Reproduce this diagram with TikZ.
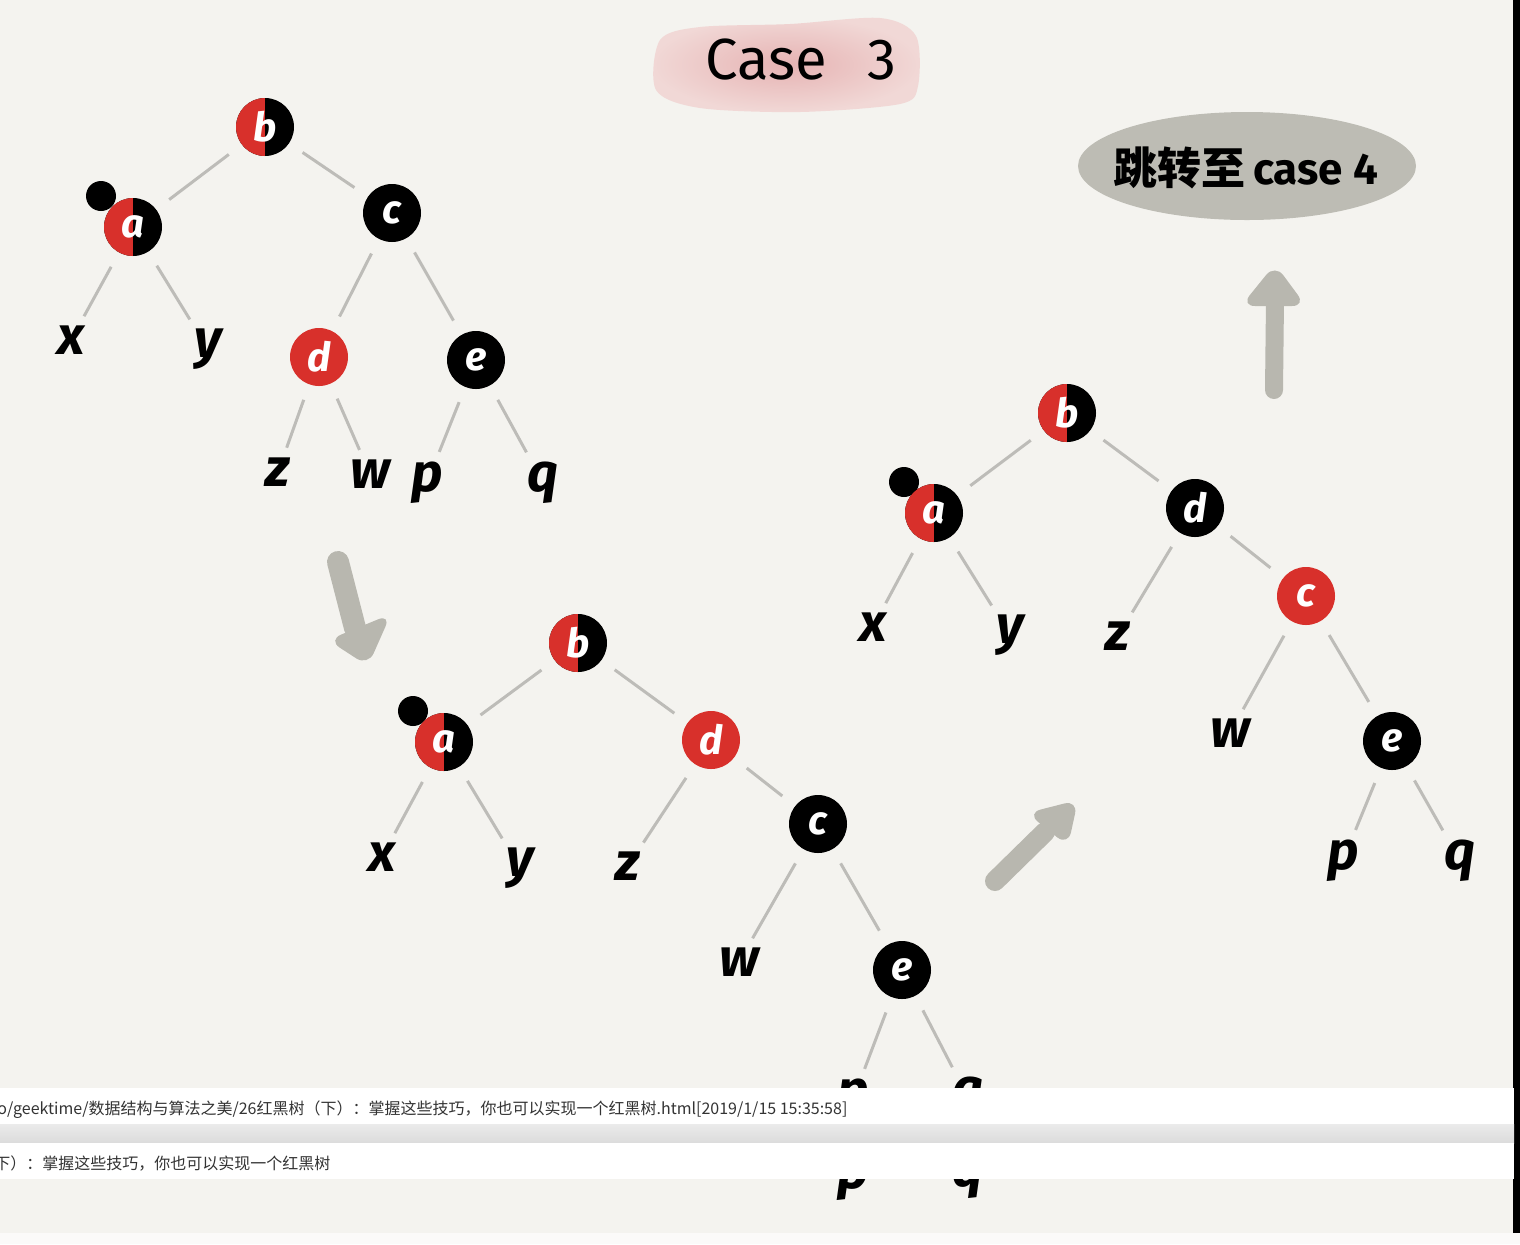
\documentclass[tikz,border=0pt]{standalone}
\usepackage{fontspec}
\newfontfamily\hand{Fira Sans}
\newfontfamily\cjk{Noto Sans CJK SC}
\definecolor{bg}{HTML}{F4F3EF}
\definecolor{rbred}{HTML}{D8302B}
\definecolor{edgec}{HTML}{BDBCB8}
\definecolor{arr}{HTML}{B8B7AF}
\definecolor{oval}{HTML}{BDBCB4}
\definecolor{pinkc}{HTML}{E6B3B3}
\definecolor{pinke}{HTML}{F1D8D6}
\definecolor{txt}{HTML}{333333}
\tikzset{
  blk/.style={circle, fill=black, minimum size=29pt, inner sep=0pt, text=white,
    font=\hand\bfseries\itshape\fontsize{20}{20}\selectfont},
  redn/.style={blk, fill=rbred},
  half/.style={blk, path picture={\fill[rbred] (path picture bounding box.south west) rectangle (path picture bounding box.north);}},
  dotn/.style={circle, fill=black, minimum size=15pt, inner sep=0pt},
  leaf/.style={anchor=mid, yshift=-6pt, inner sep=1pt, font=\hand\bfseries\itshape\fontsize{27}{27}\selectfont},
  link/.style={draw=edgec, line width=1.5pt, shorten <=8pt, shorten >=8pt},
  leaflink/.style={link, shorten >=4pt},
  shaft/.style={draw=arr, line cap=round},
  headfill/.style={fill=arr, rounded corners=7pt},
  bartext/.style={anchor=base west, inner sep=0pt, text=txt, font=\cjk\fontsize{8}{8}\selectfont}
}
\begin{document}
\begin{tikzpicture}[x=0.5pt,y=-0.5pt]
\useasboundingbox (0,0) rectangle (1520,1244);
\fill[bg] (0,0) rectangle (1520,1244);
\fill[black] (1513,0) rectangle (1520,1233);
% title blob
\shade[inner color=pinkc, outer color=pinke] plot[smooth cycle] coordinates {(660,40) (700,27) (790,24) (880,18) (916,36) (918,86) (900,104) (800,112) (700,108) (656,90)};
\node[font=\hand\fontsize{29}{29}\selectfont] (title) at (801,60) {Case\hspace{20pt}3};
% oval
\fill[oval] (1247,166) ellipse [x radius=169, y radius=54];
\node[font=\bfseries\fontsize{22}{22}\selectfont] (jump) at (1246,168) {{\cjk\bfseries 跳转至}\,{\hand case 4}};
% arrows
\draw[shaft, line width=11pt] (338,562) -- (355,628);
\fill[headfill] (328,640) -- (391,614) -- (368,666) -- cycle;
\draw[shaft, line width=10pt] (995,881) -- (1045,832);
\fill[headfill] (1027,813) -- (1078,800) -- (1068,846) -- cycle;
\draw[shaft, line width=9pt] (1274,390) -- (1275,300);
\fill[headfill] (1241,306) -- (1275,264) -- (1306,306) -- cycle;
% ---------- tree 1
\node[dotn] (K1) at (101,196) {};
\node[half] (B1) at (265,127) {b};
\node[half] (A1) at (133,227) {a};
\node[blk] (C1) at (392,213) {c};
\node[redn] (D1) at (319,357) {d};
\node[blk] (E1) at (476,360) {e};
\node[leaf] (X1) at (71,338) {x};
\node[leaf] (Y1) at (208,341) {y};
\node[leaf] (Z1) at (278,470) {z};
\node[leaf] (W1) at (370,472) {w};
\node[leaf] (P1) at (427,475) {p};
\node[leaf] (Q1) at (543,475) {q};
\draw[link] (B1) -- (A1);
\draw[link] (B1) -- (C1);
\draw[link] (C1) -- (D1);
\draw[link] (C1) -- (E1);
\draw[leaflink] (A1) -- (X1);
\draw[leaflink] (A1) -- (Y1);
\draw[leaflink] (D1) -- (Z1);
\draw[leaflink] (D1) -- (W1);
\draw[leaflink] (E1) -- (P1);
\draw[leaflink] (E1) -- (Q1);
% ---------- tree 2
\node[dotn] (K2) at (413,711) {};
\node[half] (B2) at (578,643) {b};
\node[half] (A2) at (444,742) {a};
\node[redn] (D2) at (711,740) {d};
\node[blk] (C2) at (818,824) {c};
\node[blk] (E2) at (902,970) {e};
\node[leaf] (X2) at (382,855) {x};
\node[leaf] (Y2) at (520,860) {y};
\node[leaf] (Z2) at (628,864) {z};
\node[leaf] (W2) at (739,960) {w};
\node[leaf] (P2) at (853,1092) {p};
\node[leaf] (Q2) at (968,1090) {q};
\draw[link] (B2) -- (A2);
\draw[link] (B2) -- (D2);
\draw[link] (D2) -- (C2);
\draw[link] (C2) -- (E2);
\draw[leaflink] (A2) -- (X2);
\draw[leaflink] (A2) -- (Y2);
\draw[leaflink] (D2) -- (Z2);
\draw[leaflink] (C2) -- (W2);
\draw[leaflink] (E2) -- (P2);
\draw[leaflink] (E2) -- (Q2);
% ---------- tree 3
\node[dotn] (K3) at (904,482) {};
\node[half] (B3) at (1067,413) {b};
\node[half] (A3) at (934,513) {a};
\node[blk] (D3) at (1195,508) {d};
\node[redn] (C3) at (1306,596) {c};
\node[blk] (E3) at (1392,741) {e};
\node[leaf] (X3) at (873,625) {x};
\node[leaf] (Y3) at (1010,627) {y};
\node[leaf] (Z3) at (1118,634) {z};
\node[leaf] (W3) at (1230,731) {w};
\node[leaf] (P3) at (1343,853) {p};
\node[leaf] (Q3) at (1460,853) {q};
\draw[link] (B3) -- (A3);
\draw[link] (B3) -- (D3);
\draw[link] (D3) -- (C3);
\draw[link] (C3) -- (E3);
\draw[leaflink] (A3) -- (X3);
\draw[leaflink] (A3) -- (Y3);
\draw[leaflink] (D3) -- (Z3);
\draw[leaflink] (C3) -- (W3);
\draw[leaflink] (E3) -- (P3);
\draw[leaflink] (E3) -- (Q3);
% repeated leaves showing under the bars
\node[leaf] (P2b) at (853,1172) {p};
\node[leaf] (Q2b) at (968,1170) {q};
% ---------- bottom bars
\fill[white] (0,1088) rectangle (1514,1124);
\shade[top color=black!8, bottom color=black!14] (0,1124) rectangle (1514,1143);
\fill[white] (0,1143) rectangle (1514,1179);
\fill[white!60!bg] (0,1233) rectangle (1520,1244);
\node[bartext] (T1) at (-3,1114) {o/geektime/数据结构与算法之美/26红黑树（下）：掌握这些技巧，你也可以实现一个红黑树.html[2019/1/15 15:35:58]};
\node[bartext] (T2) at (-6,1169) {下）：掌握这些技巧，你也可以实现一个红黑树};
\end{tikzpicture}
\end{document}
